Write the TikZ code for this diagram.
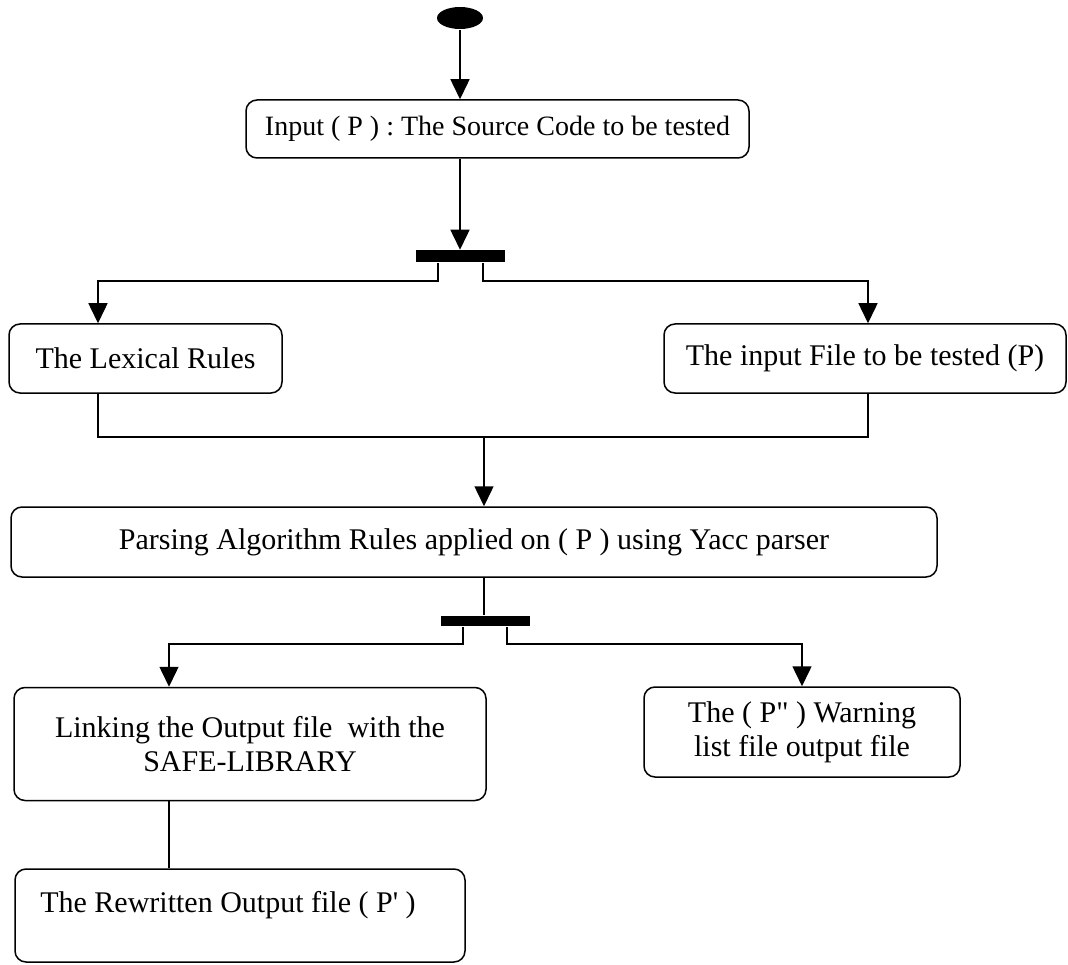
\documentclass[tikz,border=0pt]{standalone}
\usepackage{fontspec}
\setmainfont{Liberation Serif}
\usetikzlibrary{arrows.meta,shapes.geometric}
\begin{document}
\begin{tikzpicture}[x=1pt,y=-1pt,
  line width=1.5pt,
  arr/.style={-{Triangle[width=19pt,length=20pt]}},
  box/.style={draw,rounded corners=11pt,inner sep=0pt,font=\fontsize{30}{34}\selectfont,align=center},
  bar/.style={fill=black,draw=none,inner sep=0pt},
  txt/.style={inner sep=0pt,font=\fontsize{30}{34}\selectfont,align=center}]
\useasboundingbox (0,0) rectangle (1068,965);

\node[fill=black,ellipse,inner sep=0pt,minimum width=46pt,minimum height=22pt] (start) at (460,18) {};
\node[box,minimum width=503pt,minimum height=58pt,font=\fontsize{28}{32}\selectfont] (inp) at (497.5,129) {Input ( P ) : The Source Code to be tested};
\node[bar,minimum width=89pt,minimum height=12pt] (bar1) at (460.5,256.5) {};
\node[box,minimum width=273pt,minimum height=69pt] (lex) at (145.5,358.5) {The Lexical Rules};
\node[box,minimum width=402pt,minimum height=69pt] (inf) at (865,358.5) {The input File to be tested (P)};
\node[box,minimum width=926pt,minimum height=70pt] (parse) at (474,542) {Parsing Algorithm Rules applied on ( P ) using Yacc parser};
\node[bar,minimum width=89pt,minimum height=10pt] (bar2) at (485.5,621) {};
\node[box,minimum width=472pt,minimum height=113pt] (link) at (250,744) {Linking the Output file \ with the\\SAFE-LIBRARY};
\node[box,minimum width=316pt,minimum height=90pt] (warn) at (802,732) {The ( P\textquotedbl{} ) Warning\\list file output file};
\node[draw,rounded corners=11pt,minimum width=450pt,minimum height=93pt] (rw) at (240,915.5) {};
\node[txt] (rwt) at (228,905) {The Rewritten Output file ( P\textquotesingle{} )};

\coordinate (j) at (484,437);

\draw[arr] (start) -- (start |- inp.north);
\draw[arr] (start |- inp.south) -- (start |- bar1.north);
\draw[arr] ([xshift=-22.5pt]bar1.south) -- ++(0,18) -| ([xshift=-47.5pt]lex.north);
\draw[arr] ([xshift=22.5pt]bar1.south) -- ++(0,18) -| ([xshift=3pt]inf.north);
\draw ([xshift=-47.5pt]lex.south) |- (j) -| ([xshift=3pt]inf.south);
\draw[arr] (j) -- (j |- parse.north);
\draw (j |- parse.south) -- (j |- bar2.north);
\draw[arr] ([xshift=-22.5pt]bar2.south) -- ++(0,17) -| ([xshift=-81pt]link.north);
\draw[arr] ([xshift=21.5pt]bar2.south) -- ++(0,17) -| (warn.north);
\draw ([xshift=-81pt]link.south) -- ([xshift=-71pt]rw.north);
\end{tikzpicture}
\end{document}
